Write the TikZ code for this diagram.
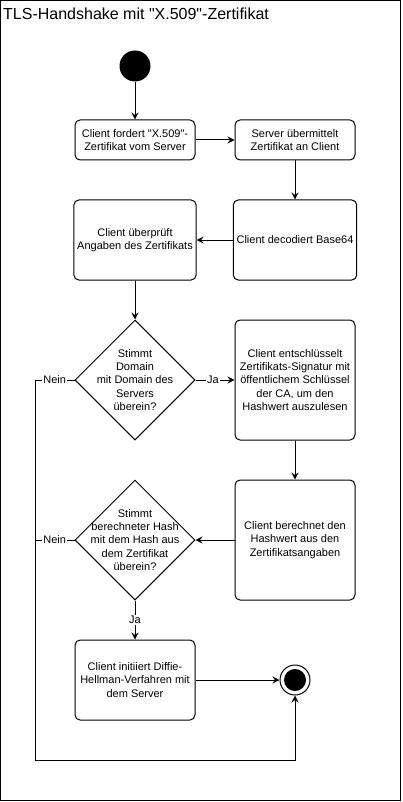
\documentclass[tikz,border=0pt]{standalone}
\usepackage{fontspec}
\setmainfont[Ligatures=TeXOff]{Liberation Sans}
\usetikzlibrary{shapes.geometric,arrows.meta,positioning}
\tikzstyle{action} = [rectangle, rounded corners=5pt, minimum width=120pt, minimum height=40pt, draw=black, fill=white, align=center, line width=1pt, font=\fontsize{11}{13.3}\selectfont]
\tikzstyle{decision} = [diamond, aspect=1, minimum width=120pt, minimum height=120pt, inner sep=0pt, draw=black, line width=1pt]
\tikzstyle{dtext} = [align=center, font=\fontsize{11}{13.3}\selectfont]
\tikzstyle{startnode} = [circle, fill=black, minimum size=31pt, inner sep=0pt]
\tikzstyle{stopnode} = [circle, draw=black, line width=1pt, fill=white, minimum size=30pt, inner sep=0pt, path picture={\fill[black] (path picture bounding box.center) circle (11pt);}]
\tikzstyle{lbl} = [fill=white, inner sep=1pt, font=\fontsize{11}{13}\selectfont]
\tikzstyle{arrow} = [line width=1pt,->,>={Stealth[length=7pt,width=7pt,inset=2.5pt]}]

\begin{document}
\begin{tikzpicture}[x=1pt,y=-1pt]
\useasboundingbox (0,0) rectangle (402,802);
\draw[line width=1pt] (0.5,0.5) rectangle (400.5,800.5);
\node (title) [anchor=base west, inner sep=0pt, font=\fontsize{16}{19}\selectfont] at (3,20) {TLS-Handshake mit "X.509"-Zertifikat};

\node (start) [startnode] at (135,66) {};
\node (req) [action] at (135,140) {Client fordert "X.509"-\\Zertifikat vom Server};
\node (send) [action] at (295,140) {Server übermittelt\\Zertifikat an Client};
\node (dec) [action, minimum height=80pt] at (295,240) {Client decodiert Base64};
\node (chk) [action, minimum height=80pt] at (135,240) {Client überprüft\\Angaben des Zertifikats};
\node (dom) [decision] at (135,380) {};
\node [dtext] at (dom) {Stimmt\\Domain\\mit Domain des\\Servers\\überein?};
\node (sig) [action, minimum height=120pt] at (295,380) {Client entschlüsselt\\Zertifikats-Signatur mit\\öffentlichem Schlüssel\\der CA, um den\\Hashwert auszulesen};
\node (hash) [action, minimum height=120pt] at (295,540) {Client berechnet den\\Hashwert aus den\\Zertifikatsangaben};
\node (cmp) [decision] at (135,540) {};
\node [dtext] at (cmp) {Stimmt\\berechneter Hash\\mit dem Hash aus\\dem Zertifikat\\überein?};
\node (dh) [action, minimum height=80pt] at (135,680) {Client initiiert Diffie-\\Hellman-Verfahren mit\\dem Server};
\node (stop) [stopnode] at (295,680) {};

\coordinate (nein1) at (35,380);
\coordinate (nein2) at (35,540);
\coordinate (bendl) at (35,760);
\coordinate (bendr) at (295,760);

\draw [arrow] (start) -- (req);
\draw [arrow] (req) -- (send);
\draw [arrow] (send) -- (dec);
\draw [arrow] (dec) -- (chk);
\draw [arrow] (chk) -- (dom);
\draw [arrow] (dom) -- node[lbl, pos=0.45] {Ja} (sig);
\draw [arrow] (sig) -- (hash);
\draw [arrow] (hash) -- (cmp);
\draw [arrow] (cmp) -- node[lbl] {Ja} (dh);
\draw [arrow] (dh) -- (stop);
\draw [arrow] (dom) -- node[lbl] {Nein} (nein1) -- (bendl) -- (bendr) -- (stop);
\draw [line width=1pt] (cmp) -- node[lbl] {Nein} (nein2);
\end{tikzpicture}
\end{document}
